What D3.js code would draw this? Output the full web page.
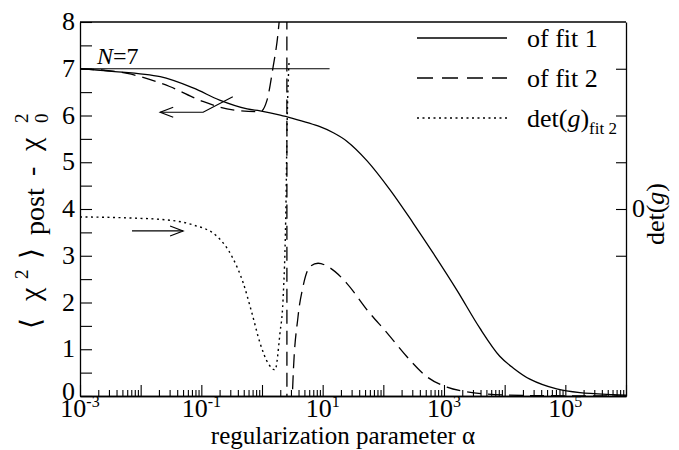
<!DOCTYPE html>
<html>
<head>
<meta charset="utf-8">
<script src="https://cdn.jsdelivr.net/npm/d3@7/dist/d3.min.js"></script>
<style>
  body{margin:0;background:#fff}
  svg text{font-family:"Liberation Serif","Times New Roman",serif;fill:#000}
</style>
</head>
<body>
<svg id="chart" width="679" height="450"></svg>
<script>
// values
var alphaFit1 = [0.001, 0.0031, 0.021, 0.073, 0.20, 0.57, 0.93, 2.0, 2.6, 9.0, 15, 25, 54, 129, 310, 660, 1620, 3900, 8300, 13800, 26000, 72000, 174000, 610000, 1000000]
var chiFit1   = [7.0, 6.95, 6.83, 6.59, 6.33, 6.14, 6.10, 6.01, 5.97, 5.76, 5.63, 5.45, 5.03, 4.41, 3.70, 3.06, 2.27, 1.45, 0.85, 0.60, 0.36, 0.15, 0.07, 0.03, 0.02]

var alphaFit2 = [0.001, 0.006, 0.030, 0.106, 0.33, 0.93, 1.21, 1.52, 1.84, 2.0, 2.3, 2.55, 2.6, 2.8, 3.24, 3.92, 4.74, 6.2, 8.4, 13.2, 25, 54, 115, 245, 525, 1120, 2400, 5100, 26000, 1000000]
var chiFit2   = [7.0, 6.9, 6.62, 6.30, 6.12, 6.08, 6.33, 7.03, 7.77, 8.3, 10, 30, -30, -3, 0.34, 1.69, 2.34, 2.77, 2.84, 2.74, 2.41, 1.84, 1.35, 0.84, 0.41, 0.19, 0.09, 0.04, 0.01, 0]

var alphaDet = [0.001, 0.006, 0.030, 0.073, 0.18, 0.33, 0.49, 0.68, 0.93, 1.26, 1.64, 1.98, 2.22, 2.49, 2.58, 2.79]
var detFit2  = [-0.17, -0.19, -0.24, -0.34, -0.58, -1.05, -1.58, -2.22, -2.87, -3.30, -3.44, -2.65, -1.95, 0.19, 1.63, 3.14]

var nLineAlpha = [0.001, 13]
var nLineChi = [7, 7]
var arrowLeftAlpha = [0.33, 0.107, 0.021]
var arrowLeftChi = [6.40, 6.07, 6.07]
var arrowRightAlpha = [0.0072, 0.050]
var arrowRightChi = [3.53, 3.53]

var xDecades = [-3, -2, -1, 0, 1, 2, 3, 4, 5, 6]
var xLabelPowers = [-3, -1, 1, 3, 5]
var yTicks = d3.range(0, 8.01, 0.5)
var yLabels = [0, 1, 2, 3, 4, 5, 6, 7, 8]
var detTicks = [-1, 0, 1, 2, 3]
var detLabels = [0]

var legendItems = ["of fit 1", "of fit 2", "det"]
var legendDash = [null, "16,9", "2,3.5"]

var svg = d3.select("#chart")
var L = 80, R = 626, T = 22, B = 396

var x = d3.scaleLog().domain([1e-3, 1e6]).range([L, R])
var y = d3.scaleLinear().domain([0, 8]).range([B, T])
var yR = d3.scaleLinear().domain([-4, 4]).range([B, T])

svg.append("clipPath").attr("id", "plot")
  .append("rect").attr("x", L).attr("y", T).attr("width", R - L).attr("height", B - T)

// x ticks: minor 2..9, major at decades
var minor = []
xDecades.forEach(function(d){
  if(d < 6) for(var k = 2; k <= 9; k++) minor.push(k * Math.pow(10, d))
})
var major = xDecades.map(function(d){ return Math.pow(10, d) })

svg.append("g").attr("transform", "translate(0," + B + ")")
  .call(d3.axisBottom(x).tickValues(minor).tickSize(-6).tickSizeOuter(0).tickFormat(""))
svg.append("g").attr("transform", "translate(0," + B + ")")
  .call(d3.axisBottom(x).tickValues(major).tickSize(-11).tickSizeOuter(0).tickFormat(""))

var xl = svg.append("g").selectAll("text").data(xLabelPowers).enter().append("text")
  .attr("x", function(d){ return x(Math.pow(10, d)) })
  .attr("y", 417)
  .attr("text-anchor", "middle")
  .style("font-size", "26px")
xl.append("tspan").text("10")
xl.append("tspan").attr("dy", -10).style("font-size", "16px").text(function(d){ return d < 0 ? "-" + (-d) : d })

// left axis
svg.append("g").attr("transform", "translate(" + L + ",0)")
  .call(d3.axisLeft(y).tickValues(yTicks).tickSize(-12).tickSizeOuter(0).tickFormat(""))
svg.append("g").selectAll("text").data(yLabels).enter().append("text")
  .attr("x", 75).attr("y", function(d){ return d == 0 ? y(d) + 4 : y(d) + 8 })
  .attr("text-anchor", "end").style("font-size", "26px")
  .text(function(d){ return d })

// right axis
svg.append("g").attr("transform", "translate(" + R + ",0)")
  .call(d3.axisRight(yR).tickValues(detTicks).tickSize(-10).tickSizeOuter(0).tickFormat(""))
svg.append("g").selectAll("text").data(detLabels).enter().append("text")
  .attr("x", 632).attr("y", function(d){ return yR(d) + 8 })
  .style("font-size", "26px").text(function(d){ return d })

// top frame
svg.append("line").attr("x1", L).attr("x2", R).attr("y1", T).attr("y2", T)
  .attr("stroke", "#000").attr("stroke-width", 1.3)

svg.selectAll(".domain").attr("stroke-width", 1.3)
svg.selectAll(".tick line").attr("stroke-width", 1.1)

// curves
var g = svg.append("g").attr("clip-path", "url(#plot)")
var smooth = d3.line().x(function(d){ return x(d[0]) }).y(function(d){ return y(d[1]) }).curve(d3.curveCatmullRom.alpha(0.5))
var lineL = d3.line().x(function(d){ return x(d[0]) }).y(function(d){ return y(d[1]) }).curve(d3.curveMonotoneX)
var lineR = d3.line().x(function(d){ return x(d[0]) }).y(function(d){ return yR(d[1]) }).curve(d3.curveMonotoneX)
var straight = d3.line().x(function(d){ return x(d[0]) }).y(function(d){ return y(d[1]) })

g.append("path").datum(d3.zip(nLineAlpha, nLineChi)).attr("d", straight)
  .attr("fill", "none").attr("stroke", "#000").attr("stroke-width", 1)

g.append("path").datum(d3.zip(alphaFit1, chiFit1)).attr("d", smooth)
  .attr("fill", "none").attr("stroke", "#000").attr("stroke-width", 1.3)
g.append("path").datum(d3.zip(alphaFit2, chiFit2)).attr("d", lineL)
  .attr("fill", "none").attr("stroke", "#000").attr("stroke-width", 1.3).attr("stroke-dasharray", "14,7")
g.append("path").datum(d3.zip(alphaDet, detFit2)).attr("d", lineR)
  .attr("fill", "none").attr("stroke", "#000").attr("stroke-width", 1.4).attr("stroke-dasharray", "2,3.5")

// arrows
var drawArrow = function(pts){
  g.append("path").datum(pts).attr("d", straight)
    .attr("fill", "none").attr("stroke", "#000").attr("stroke-width", 1.2)
  var a = pts[pts.length - 2], b = pts[pts.length - 1]
  var ax = x(a[0]), ay = y(a[1]), bx = x(b[0]), by = y(b[1])
  var dir = bx > ax ? 1 : -1
  g.append("path")
    .attr("d", "M" + (bx - dir * 13) + "," + (by - 5) + "L" + bx + "," + by + "L" + (bx - dir * 13) + "," + (by + 5))
    .attr("fill", "none").attr("stroke", "#000").attr("stroke-width", 1.2)
}
drawArrow(d3.zip(arrowLeftAlpha, arrowLeftChi))
drawArrow(d3.zip(arrowRightAlpha, arrowRightChi))

// N=7 label
var nt = svg.append("text").attr("x", 97).attr("y", 64).style("font-size", "24px")
nt.append("tspan").style("font-style", "italic").text("N")
nt.append("tspan").text("=7")

// legend
var lg = svg.append("g")
legendItems.forEach(function(d, i){
  var ly = 38 + i * 40
  lg.append("line").attr("x1", 417).attr("x2", 507).attr("y1", ly).attr("y2", ly)
    .attr("stroke", "#000").attr("stroke-width", 1.3)
    .attr("stroke-dasharray", legendDash[i])
  var t = lg.append("text").attr("x", 527).attr("y", ly + 9).style("font-size", "26px")
  if(d == "det"){
    t.append("tspan").text("det(")
    t.append("tspan").style("font-style", "italic").text("g")
    t.append("tspan").text(")")
    t.append("tspan").attr("dy", 7).style("font-size", "17px").text("fit 2")
  }else{
    t.text(d)
  }
})

// axis titles
svg.append("text").attr("x", 343).attr("y", 444).attr("text-anchor", "middle")
  .style("font-size", "25px").text("regularization parameter \u03b1")

// y title, laid out piece by piece along the rotated baseline
var yt = svg.append("text").attr("transform", "translate(40,337) rotate(-90)")
  .style("font-size", "28px")
yt.append("tspan").attr("x", 8).attr("y", 0).style("font-weight", "300").text("\u27e8")
yt.append("tspan").attr("x", 36).attr("y", 0).style("font-size", "30px").text("\u03c7")
yt.append("tspan").attr("x", 58).attr("y", -12).style("font-size", "19px").text("2")
yt.append("tspan").attr("x", 78).attr("y", 0).style("font-weight", "300").text("\u27e9")
yt.append("tspan").attr("x", 102).attr("y", 4).text("post")
yt.append("tspan").attr("x", 161).attr("y", 0).text("-")
yt.append("tspan").attr("x", 186).attr("y", 0).style("font-size", "30px").text("\u03c7")
yt.append("tspan").attr("x", 214).attr("y", -12).style("font-size", "19px").text("2")
yt.append("tspan").attr("x", 214).attr("y", 8).style("font-size", "19px").text("0")

var rt = svg.append("text").attr("transform", "translate(664,214) rotate(-90)")
  .attr("text-anchor", "middle").style("font-size", "26px")
rt.append("tspan").text("det(")
rt.append("tspan").style("font-style", "italic").text("g")
rt.append("tspan").text(")")
</script>
</body>
</html>
